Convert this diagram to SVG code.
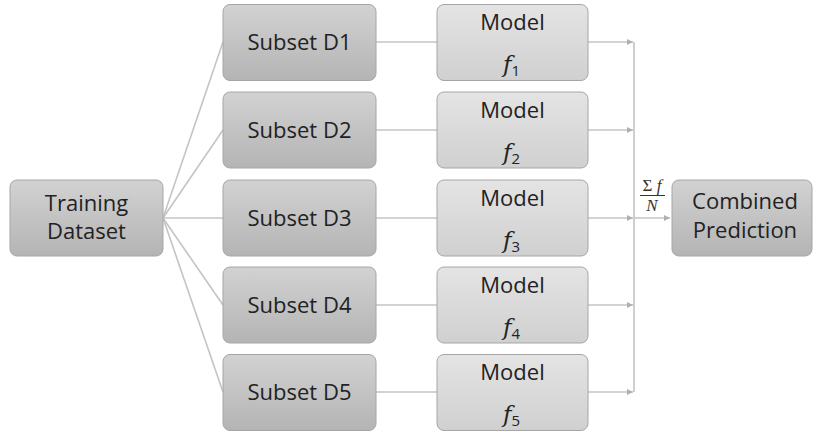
<svg xmlns="http://www.w3.org/2000/svg" width="816" height="432" viewBox="0 0 816 432">
<defs>
<linearGradient id="gDark" x1="0" y1="0" x2="0" y2="1">
<stop offset="0" stop-color="#d2d2d2"/>
<stop offset="1" stop-color="#b4b4b4"/>
</linearGradient>
<linearGradient id="gLight" x1="0" y1="0" x2="0" y2="1">
<stop offset="0" stop-color="#e4e4e4"/>
<stop offset="1" stop-color="#d0d0d0"/>
</linearGradient>
<marker id="arr" viewBox="0 0 10 10" refX="10" refY="5" markerWidth="6" markerHeight="6" markerUnits="userSpaceOnUse" orient="auto">
<path d="M0,0 L10,5 L0,10 z" fill="#b0b0b0"/>
</marker>
</defs>
<style>
.dark{fill:url(#gDark);stroke:#a6a6a6;stroke-width:1}
.light{fill:url(#gLight);stroke:#a6a6a6;stroke-width:1}
.t{font-family:"Open Sans","Liberation Sans",sans-serif;font-size:22px;fill:#222;text-anchor:middle}
.f{font-family:"DejaVu Serif","Liberation Serif",serif;font-style:italic;font-size:23px;fill:#222}
.sub{font-family:"Open Sans","Liberation Sans",sans-serif;font-size:15px;fill:#222}
.c{stroke:#c4c4c4;stroke-width:1.6;fill:none}
.m{font-family:"Liberation Serif",serif;font-size:17px;fill:#333;text-anchor:middle}
</style>
<rect width="816" height="432" fill="#ffffff"/>
<g id="connectors">
<line class="c" x1="163" y1="218" x2="223" y2="42"/>
<line class="c" x1="163" y1="218" x2="223" y2="130"/>
<line class="c" x1="163" y1="218" x2="223" y2="218"/>
<line class="c" x1="163" y1="218" x2="223" y2="305"/>
<line class="c" x1="163" y1="218" x2="223" y2="392"/>
<line class="c" x1="376" y1="42" x2="437" y2="42"/>
<line class="c" x1="376" y1="130" x2="437" y2="130"/>
<line class="c" x1="376" y1="218" x2="437" y2="218"/>
<line class="c" x1="376" y1="305" x2="437" y2="305"/>
<line class="c" x1="376" y1="392" x2="437" y2="392"/>
<line class="c" x1="588" y1="42" x2="633" y2="42" marker-end="url(#arr)"/>
<line class="c" x1="588" y1="130" x2="633" y2="130" marker-end="url(#arr)"/>
<line class="c" x1="588" y1="218" x2="633" y2="218" marker-end="url(#arr)"/>
<line class="c" x1="588" y1="305" x2="633" y2="305" marker-end="url(#arr)"/>
<line class="c" x1="588" y1="392" x2="633" y2="392" marker-end="url(#arr)"/>
<line class="c" x1="634" y1="42" x2="634" y2="392"/>
<line class="c" x1="634" y1="218" x2="670" y2="218" marker-end="url(#arr)"/>
<g id="avg-label">
<text class="m" x="652" y="191"><tspan>Σ</tspan><tspan font-style="italic"> f</tspan></text>
<line x1="640" y1="195.5" x2="665" y2="195.5" stroke="#333" stroke-width="1"/>
<text class="m" x="652" y="211" font-style="italic">N</text>
</g>
</g>
<g id="training">
<rect class="dark" x="10" y="180" width="153" height="76" rx="7"/>
<text class="t" x="86.5" y="211">Training</text>
<text class="t" x="86.5" y="239">Dataset</text>
</g>
<g id="subset1"><rect class="dark" x="223" y="4.5" width="153" height="76" rx="7"/><text class="t" x="299.5" y="50">Subset D1</text></g>
<g id="subset2"><rect class="dark" x="223" y="92" width="153" height="76" rx="7"/><text class="t" x="299.5" y="138">Subset D2</text></g>
<g id="subset3"><rect class="dark" x="223" y="180" width="153" height="76" rx="7"/><text class="t" x="299.5" y="226">Subset D3</text></g>
<g id="subset4"><rect class="dark" x="223" y="267" width="153" height="76" rx="7"/><text class="t" x="299.5" y="313">Subset D4</text></g>
<g id="subset5"><rect class="dark" x="223" y="354.5" width="153" height="76" rx="7"/><text class="t" x="299.5" y="400">Subset D5</text></g>
<g id="model1"><rect class="light" x="437" y="4.5" width="151" height="76" rx="7"/><text class="t" x="512.5" y="30">Model</text><text x="503" y="72"><tspan class="f">f</tspan><tspan class="sub" dy="4">1</tspan></text></g>
<g id="model2"><rect class="light" x="437" y="92" width="151" height="76" rx="7"/><text class="t" x="512.5" y="118">Model</text><text x="503" y="160"><tspan class="f">f</tspan><tspan class="sub" dy="4">2</tspan></text></g>
<g id="model3"><rect class="light" x="437" y="180" width="151" height="76" rx="7"/><text class="t" x="512.5" y="206">Model</text><text x="503" y="248"><tspan class="f">f</tspan><tspan class="sub" dy="4">3</tspan></text></g>
<g id="model4"><rect class="light" x="437" y="267" width="151" height="76" rx="7"/><text class="t" x="512.5" y="293">Model</text><text x="503" y="335"><tspan class="f">f</tspan><tspan class="sub" dy="4">4</tspan></text></g>
<g id="model5"><rect class="light" x="437" y="354.5" width="151" height="76" rx="7"/><text class="t" x="512.5" y="380">Model</text><text x="503" y="422"><tspan class="f">f</tspan><tspan class="sub" dy="4">5</tspan></text></g>
<g id="combined">
<rect class="dark" x="672" y="180" width="140" height="76" rx="7"/>
<text class="t" x="745" y="209">Combined</text>
<text class="t" x="745" y="238">Prediction</text>
</g>
</svg>
